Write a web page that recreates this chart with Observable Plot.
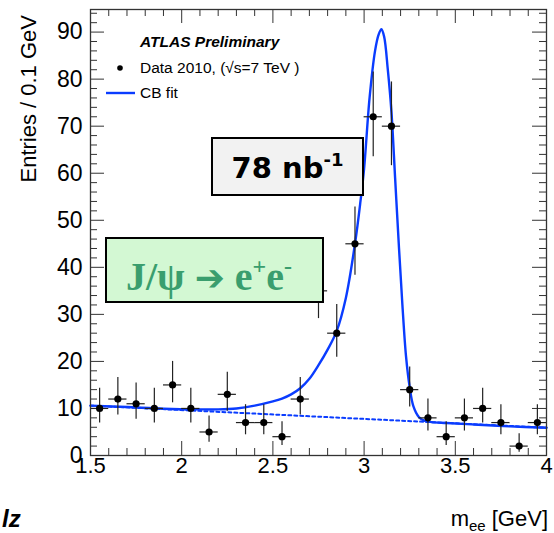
<!DOCTYPE html>
<html><head><meta charset="utf-8">
<script src="https://cdn.jsdelivr.net/npm/d3@7"></script>
<script src="https://cdn.jsdelivr.net/npm/@observablehq/plot@0.6"></script>
<style>body{margin:0;background:#fff}#chart svg{display:block}</style>
</head><body><div id="chart"></div>
<script>
// ---- data ----
const binCenters = [1.55,1.65,1.75,1.85,1.95,2.05,2.15,2.25,2.35,2.45,2.55,2.65,2.75,2.85,2.95,3.05,3.15,3.25,3.35,3.45,3.55,3.65,3.75,3.85,3.95];
const counts     = [10,12,11,10,15,10,5,13,7,7,4,12,35,26,45,72,70,14,8,4,8,10,7,2,7];
const errLow     = [6.9,8.6,7.7,6.9,11.2,6.9,2.8,9.4,4.4,4.4,2.1,8.6,29.1,20.9,38.3,63.5,61.6,10.3,5.2,2.1,5.2,6.9,4.4,0.7,4.4];
const errHigh    = [14.3,16.6,15.4,14.3,20.0,14.3,8.4,17.7,10.8,10.8,7.2,16.6,42.0,32.1,52.8,81.5,79.4,18.8,12.0,7.2,12.0,14.3,10.8,4.6,10.8];
const binHalfWidth = 0.05;

const fitX = [1.50,1.70,1.90,2.10,2.20,2.30,2.40,2.50,2.55,2.60,2.65,2.70,2.75,2.80,2.85,2.90,2.95,2.98,3.00,3.03,3.06,3.08,3.095,3.11,3.13,3.15,3.17,3.19,3.21,3.23,3.25,3.27,3.30,3.33,3.37,3.45,3.60,3.80,4.00];
const fitY = [10.6,10.3,9.95,9.8,9.8,10.0,10.6,11.5,12.1,13.0,14.3,16.3,19.2,22.5,26.5,33.5,45,54,61,76,86,89.5,90.6,89,82,73,59,45,32,21,14.5,10.5,8.2,7.4,7.1,6.9,6.6,6.2,5.9];
const bkgX = [1.5, 4.0];
const bkgY = [10.6, 5.9];

const xMajor = [1.5,2,2.5,3,3.5,4];
const xMinor = [1.6,1.7,1.8,1.9,2.1,2.2,2.3,2.4,2.6,2.7,2.8,2.9,3.1,3.2,3.3,3.4,3.6,3.7,3.8,3.9];
const yMajor = [0,10,20,30,40,50,60,70,80,90];
const yMinor = [2,4,6,8,12,14,16,18,22,24,26,28,32,34,36,38,42,44,46,48,52,54,56,58,62,64,66,68,72,74,76,78,82,84,86,88,92,94];

const points = binCenters.map((m,i)=>({m, n:counts[i], lo:errLow[i], hi:errHigh[i]}));
const fit = fitX.map((x,i)=>({x, y:fitY[i]}));
const bkg = bkgX.map((x,i)=>({x, y:bkgY[i]}));

// ---- layout ----
const W=554, H=533, mL=90, mR=8, mT=9, mB=78;
const pw=W-mL-mR, ph=H-mT-mB;
const blue="#0a3cff", tickCol="#333";

const chart = Plot.plot({
  width:W, height:H, marginLeft:mL, marginRight:mR, marginTop:mT, marginBottom:mB,
  x:{domain:[1.5,4]}, y:{domain:[0,94.8]},
  style:{fontFamily:"'Liberation Sans', Arial, sans-serif", background:"#fff", color:"#000"},
  marks:[
    Plot.ruleX(xMinor,{stroke:tickCol, insetTop:ph-7}),
    Plot.ruleX(xMinor,{stroke:tickCol, insetBottom:ph-7}),
    Plot.ruleX(xMajor,{stroke:tickCol, insetTop:ph-14}),
    Plot.ruleX(xMajor,{stroke:tickCol, insetBottom:ph-14}),
    Plot.ruleY(yMinor,{stroke:tickCol, insetRight:pw-7}),
    Plot.ruleY(yMinor,{stroke:tickCol, insetLeft:pw-7}),
    Plot.ruleY(yMajor,{stroke:tickCol, insetRight:pw-14}),
    Plot.ruleY(yMajor,{stroke:tickCol, insetLeft:pw-14}),
    Plot.line(bkg,{x:"x", y:"y", stroke:blue, strokeWidth:2, strokeDasharray:"3,3"}),
    Plot.line(fit,{x:"x", y:"y", stroke:blue, strokeWidth:2.4, curve:"catmull-rom"}),
    Plot.ruleX(points,{x:"m", y1:"lo", y2:"hi", stroke:"#222", strokeWidth:1.2}),
    Plot.ruleY(points,{y:"n", x1:d=>d.m-binHalfWidth, x2:d=>d.m+binHalfWidth, stroke:"#222", strokeWidth:1.2}),
    Plot.dot(points,{x:"m", y:"n", r:3.6, fill:"#000"}),
    Plot.frame({stroke:tickCol, strokeWidth:1.3}),
    Plot.axisX(xMajor,{tickSize:0, tickPadding:2, fontSize:22, label:null, tickFormat:d=>String(d)}),
    Plot.axisY(yMajor,{tickSize:0, tickPadding:8, fontSize:23, label:null, tickFormat:d=>String(d)})
  ]
});
document.getElementById("chart").appendChild(chart);

// ---- annotations ----
const svg = d3.select(chart);
const sans = "'Liberation Sans', Arial, sans-serif";
svg.append("text").attr("transform","translate(36,15) rotate(-90)")
  .attr("text-anchor","end").attr("font-family",sans).attr("font-size",22).attr("fill","#000")
  .text("Entries / 0.1 GeV");

const xt = svg.append("text").attr("x",548).attr("y",526).attr("text-anchor","end")
  .attr("font-family",sans).attr("font-size",22).attr("fill","#000");
xt.append("tspan").text("m");
xt.append("tspan").attr("font-size",15).attr("dy",5).text("ee");
xt.append("tspan").attr("dy",-5).text(" [GeV]");

svg.append("text").attr("x",2).attr("y",527).attr("text-anchor","start").attr("font-family",sans).attr("font-size",24)
  .attr("font-weight","bold").attr("font-style","italic").attr("fill","#000").text("lz");

// legend
svg.append("text").attr("x",140).attr("y",47).attr("text-anchor","start").attr("font-family",sans).attr("font-size",15.5)
  .attr("font-weight","bold").attr("font-style","italic").attr("fill","#000").text("ATLAS Preliminary");
svg.append("circle").attr("cx",120).attr("cy",68).attr("r",2.8).attr("fill","#000");
svg.append("text").attr("x",140).attr("y",73).attr("text-anchor","start").attr("font-family",sans).attr("font-size",15.5)
  .attr("fill","#000").text("Data 2010, (\u221As=7 TeV )");
svg.append("line").attr("x1",106).attr("x2",135).attr("y1",93).attr("y2",93)
  .attr("stroke",blue).attr("stroke-width",2.4);
svg.append("text").attr("x",140).attr("y",98).attr("text-anchor","start").attr("font-family",sans).attr("font-size",15.5)
  .attr("fill","#000").text("CB fit");

// luminosity box
svg.append("rect").attr("x",212).attr("y",138).attr("width",151).attr("height",57)
  .attr("fill","#f2f2f2").attr("stroke","#000").attr("stroke-width",2);
const lt = svg.append("text").attr("x",287.5).attr("y",178).attr("text-anchor","middle")
  .attr("font-family","'DejaVu Sans', sans-serif").attr("font-weight","bold").attr("font-size",29).attr("fill","#000");
lt.append("tspan").text("78 nb");
lt.append("tspan").attr("font-size",18).attr("dy",-12).text("-1");

// process box
svg.append("rect").attr("x",106).attr("y",238).attr("width",217).attr("height",64)
  .attr("fill","#d3f8d3").attr("stroke","#000").attr("stroke-width",2);
const green = "#3a9e6e";
const pt = svg.append("text").attr("x",209).attr("y",290).attr("text-anchor","middle")
  .attr("font-family","'Liberation Serif', 'Times New Roman', serif").attr("font-weight","bold")
  .attr("font-size",40).attr("fill",green);
pt.append("tspan").text("J/\u03C8 ");
pt.append("tspan").attr("font-family","'DejaVu Sans', sans-serif").attr("font-size",36).text("\u2794");
pt.append("tspan").text(" e");
pt.append("tspan").attr("font-size",24).attr("dy",-16).text("+");
pt.append("tspan").attr("dy",16).text("e");
pt.append("tspan").attr("font-size",24).attr("dy",-16).text("-");
</script>
</body></html>
